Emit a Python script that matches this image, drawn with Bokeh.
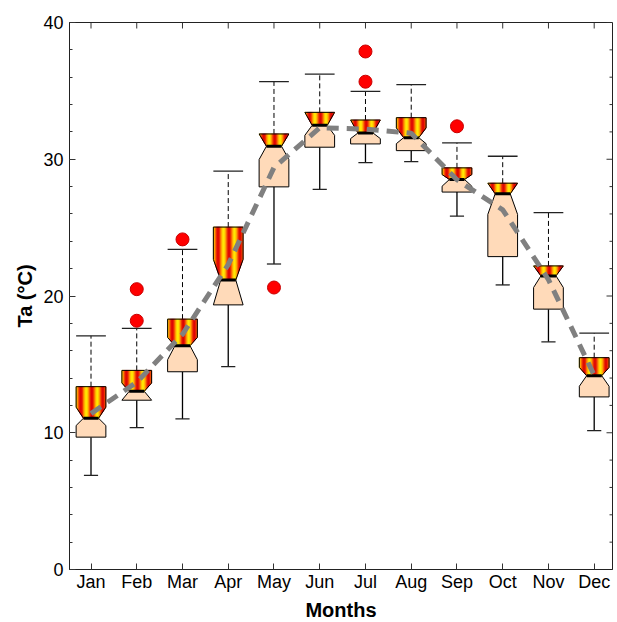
import math
from bokeh.plotting import figure
from bokeh.models import Range1d, FixedTicker, SingleIntervalTicker
from bokeh.embed import file_html
from bokeh.resources import INLINE

# ---------------- data ----------------
months = ["Jan", "Feb", "Mar", "Apr", "May", "Jun",
          "Jul", "Aug", "Sep", "Oct", "Nov", "Dec"]
q1 = [9.68, 12.38, 14.46, 19.35, 27.98, 30.88, 31.12, 30.63, 27.60, 22.88, 19.04, 12.62]
median = [11.06, 13.03, 16.36, 21.17, 30.95, 32.48, 31.92, 31.58, 28.52, 27.47, 21.47, 14.17]
q3 = [13.37, 14.56, 18.31, 25.04, 31.85, 33.43, 32.87, 33.04, 29.37, 28.25, 22.20, 15.49]
notch_lo = [10.53, 12.38, 15.34, 19.35, 29.98, 31.75, 31.51, 31.14, 28.03, 25.97, 20.62, 13.40]
notch_hi = [11.87, 13.64, 16.97, 22.68, 31.85, 33.43, 32.87, 32.29, 28.88, 28.25, 22.20, 14.78]
whisker_lo = [6.88, 10.38, 11.01, 14.83, 22.34, 27.79, 29.76, 29.83, 25.84, 20.81, 16.65, 10.16]
whisker_hi = [17.09, 17.63, 23.41, 29.13, 35.67, 36.23, 34.96, 35.45, 31.20, 30.22, 26.09, 17.29]
means = [11.4, 13.7, 17.2, 22.3, 29.4, 32.3, 32.2, 31.9, 28.5, 26.3, 21.2, 14.2]
outlier_month = ["Feb", "Feb", "Mar", "May", "Jul", "Jul", "Sep"]
outlier_value = [18.19, 20.50, 24.14, 20.62, 35.67, 37.88, 32.41]
y_ticks = [0, 10, 20, 30, 40]

# ---------------- styling constants ----------------
X_START, X_END = 0.53, 12.40
Y_START, Y_END = 0, 40
BW = 0.325       # half box width (data units)
NW = 0.165       # half width at the notch waist
CAP_LO = 0.155   # half width of lower whisker cap
N_SLICES = 30
PERIOD = 0.241   # stripe period (data units)
PHASE = 0.11
FONT = "Liberation Sans"
AX = "#222222"

xpos = list(range(1, 13))
pos_of = {m: i + 1 for i, m in enumerate(months)}

p = figure(frame_width=543, frame_height=547,
           x_range=Range1d(X_START, X_END), y_range=Range1d(Y_START, Y_END),
           output_backend="svg", toolbar_location=None,
           min_border_left=69, min_border_right=1,
           min_border_top=22, min_border_bottom=44)
p.outline_line_color = AX
p.outline_line_width = 1
p.xgrid.visible = False
p.ygrid.visible = False
p.background_fill_color = "white"
p.border_fill_color = "white"


def stripe_color(f):
    r = int(round(222 + 33 * min(1.0, 2 * f)))
    g = int(round(235 * f))
    return "#%02x%02x%02x" % (r, g, 0)


lower_xs, lower_ys = [], []
upper_xs, upper_ys = [], []
st_xs, st_ys, st_c = [], [], []

for i, c in enumerate(xpos):
    l, r = c - BW, c + BW
    nl, nr = c - NW, c + NW
    med = median[i]
    lo = max(notch_lo[i], q1[i])
    hi = min(notch_hi[i], q3[i])
    lower_xs.append([l, r, r, nr, nl, l])
    lower_ys.append([q1[i], q1[i], lo, med, med, lo])
    upper_xs.append([nl, nr, r, r, l, l])
    upper_ys.append([med, med, hi, q3[i], q3[i], hi])

    def ylow(x, med=med, hi=hi, l=l, r=r, nl=nl, nr=nr):
        if x < nl:
            return med + (hi - med) * (nl - x) / (nl - l)
        if x > nr:
            return med + (hi - med) * (x - nr) / (r - nr)
        return med

    edges = sorted(set([l + k * (r - l) / N_SLICES for k in range(N_SLICES + 1)] + [nl, nr]))
    for a, b in zip(edges[:-1], edges[1:]):
        if b - a < 1e-9:
            continue
        st_xs.append([a, b, b, a])
        st_ys.append([ylow(a), ylow(b), q3[i], q3[i]])
        mid = 0.5 * (a + b)
        ph = ((mid - l) - PHASE) / PERIOD
        f = 0.5 - 0.5 * math.cos(2 * math.pi * ph)
        st_c.append(stripe_color(f))

# whiskers
p.segment(x0=xpos, y0=q3, x1=xpos, y1=whisker_hi, line_color="black",
          line_width=1, line_dash="5 3")
p.segment(x0=[c - BW for c in xpos], y0=whisker_hi, x1=[c + BW for c in xpos],
          y1=whisker_hi, line_color="#222222", line_width=1.3)
p.segment(x0=xpos, y0=q1, x1=xpos, y1=whisker_lo, line_color="black", line_width=1.3)
p.segment(x0=[c - CAP_LO for c in xpos], y0=whisker_lo, x1=[c + CAP_LO for c in xpos],
          y1=whisker_lo, line_color="#222222", line_width=1.3)

# lower half (peach)
p.patches(lower_xs, lower_ys, fill_color="#FFDAB9", line_color="black", line_width=1)
# upper half stripes
p.patches(st_xs, st_ys, fill_color=st_c, line_color=st_c, line_width=0.8)
p.patches(upper_xs, upper_ys, fill_color=None, line_color="black", line_width=1)
# median
p.segment(x0=[c - NW for c in xpos], y0=median, x1=[c + NW for c in xpos], y1=median,
          line_color="black", line_width=3)

# outliers
p.scatter([pos_of[m] for m in outlier_month], outlier_value, size=13,
          fill_color="#FF0000", line_color="#C80000", line_width=1)

# mean line
p.line(xpos, means, line_color="#808080", line_width=5, line_dash="12 8")

# axes (left / bottom)
p.xaxis.ticker = FixedTicker(ticks=xpos)
p.xaxis.major_label_overrides = {x: m for x, m in zip(xpos, months)}
p.yaxis.ticker = SingleIntervalTicker(interval=10, num_minor_ticks=5)

for ax in p.xaxis + p.yaxis:
    ax.major_tick_in = 6
    ax.major_tick_out = 0
    ax.minor_tick_out = 0
    ax.axis_line_color = AX
    ax.major_tick_line_color = "#333333"
    ax.minor_tick_line_color = "#333333"
    ax.major_label_text_font = FONT
    ax.major_label_text_font_size = "18px"
    ax.major_label_text_color = "black"
    ax.axis_label_text_font = FONT
    ax.axis_label_text_font_size = "20px"
    ax.axis_label_text_font_style = "bold"
    ax.axis_label_text_color = "black"
p.xaxis.minor_tick_in = 0
p.yaxis.minor_tick_in = 3
p.xaxis.major_label_standoff = 2
p.yaxis.major_label_standoff = 6
p.xaxis.axis_label = "Months"
p.yaxis.axis_label = "Ta (°C)"
p.xaxis.axis_label_standoff = 4
p.yaxis.axis_label_standoff = 4

# mirrored ticks on top and right (inside the frame)
p.ray(x=xpos, y=[Y_END] * len(xpos), length=6, length_units="screen",
      angle=-math.pi / 2, line_color="#333333", line_width=1)
p.ray(x=[X_END] * len(y_ticks), y=y_ticks, length=6, length_units="screen",
      angle=math.pi, line_color="#333333", line_width=1)
minor_y = [v for v in range(Y_START, Y_END + 1, 2) if v not in y_ticks]
p.ray(x=[X_END] * len(minor_y), y=minor_y, length=3, length_units="screen",
      angle=math.pi, line_color="#333333", line_width=1)

open("out.html", "w").write(file_html(p, INLINE))
